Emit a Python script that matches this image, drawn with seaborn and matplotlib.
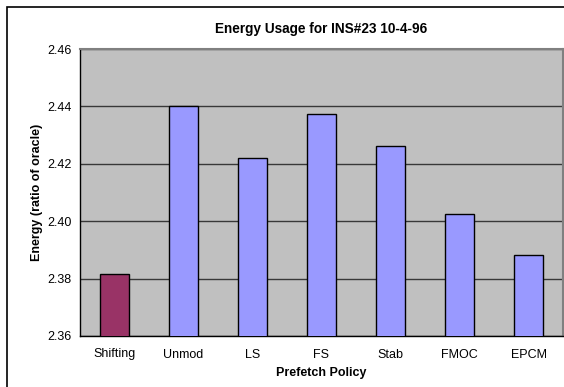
import pandas as pd
import numpy as np
import matplotlib.pyplot as plt
import seaborn as sns
from matplotlib.patches import Rectangle

policies=["Shifting","Unmod","LS","FS","Stab","FMOC","EPCM"]
energy=[2.3817,2.4403,2.4221,2.4375,2.4263,2.4025,2.3881]
bar_colors=["#993366"]+["#9999FF"]*6
yticks=[2.36,2.38,2.40,2.42,2.44,2.46]

df=pd.DataFrame({"policy":policies,"energy":energy})

sns.set_style("white")
plt.rcParams["font.family"]=["Liberation Sans","DejaVu Sans"]
plt.rcParams["text.color"]="black"
plt.rcParams["axes.labelcolor"]="black"
plt.rcParams["xtick.color"]="black"
plt.rcParams["ytick.color"]="black"

fig=plt.figure(figsize=(5.64,3.87),dpi=100)
ax=fig.add_axes([80/564,1-336/387,(563-80)/564,(336-49)/387])
ax.set_facecolor("#C0C0C0")

sns.barplot(
    data=df,x="policy",y="energy",hue="policy",
    palette=bar_colors,legend=False,saturation=1,
    width=0.41,edgecolor="black",linewidth=1,
    ax=ax,zorder=3
)

ax.set_ylim(2.36,2.46)
ax.set_yticks(yticks)
ax.set_yticklabels([f"{t:.2f}" for t in yticks],fontsize=9)
ax.set_xlim(-0.5,6.5)
ax.grid(axis="y",color="#383838",linewidth=1,zorder=1)
ax.set_axisbelow(True)

# tick marks between categories, like excel
ax.set_xticks(np.arange(-0.5,7,1),minor=True)
ax.tick_params(axis="x",which="minor",length=4,width=1,color="black",direction="out")
ax.tick_params(axis="x",which="major",length=0,labelsize=9,pad=9)
ax.tick_params(axis="y",which="major",length=4,width=1,color="black",direction="out",pad=2)

for s in ["left","bottom"]:
    ax.spines[s].set_color("black")
    ax.spines[s].set_linewidth(1)
for s in ["top","right"]:
    ax.spines[s].set_color("#808080")
    ax.spines[s].set_linewidth(1.5)

ax.set_xlabel("Prefetch Policy",fontsize=9,fontweight="bold",labelpad=5)
ax.set_ylabel("Energy (ratio of oracle)",fontsize=9,fontweight="bold")
ax.yaxis.set_label_coords(-0.076,0.5)
fig.text(0.5*(80+563)/564,1-29/387,"Energy Usage for INS#23 10-4-96",
         ha="center",va="center",fontsize=9.8,fontweight="bold")

# outer chart border
fig.patches.append(Rectangle((7/564,-0.05),1.1,1-7/387+0.05,transform=fig.transFigure,
                             fill=False,edgecolor="black",linewidth=1.2))

plt.savefig("out.png",dpi=100)
